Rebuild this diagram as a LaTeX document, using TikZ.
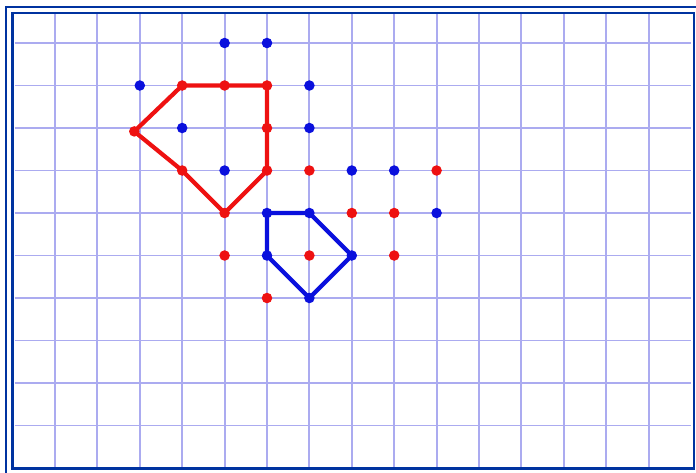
\documentclass[tikz,border=0pt]{standalone}
\usetikzlibrary{calc}
\definecolor{gridblue}{HTML}{ABABF0}
\definecolor{frameblue}{HTML}{0033A0}
\definecolor{ptred}{HTML}{EE1111}
\definecolor{ptblue}{HTML}{0A10DD}

\begin{document}
\begin{tikzpicture}[x=1.06cm, y=-1.0625cm,
  gridline/.style={gridblue, line width=1.3pt},
  reddot/.style={circle, fill=ptred, inner sep=0pt, minimum size=7.5pt},
  bluedot/.style={circle, fill=ptblue, inner sep=0pt, minimum size=7.5pt},
  redline/.style={ptred, line width=3pt, line join=round},
  blueline/.style={ptblue, line width=3pt, line join=round}]%
  \useasboundingbox (-0.297,-0.012) rectangle (16.118,11.094);
  \fill[white] (-0.297,-0.012) rectangle (16.118,11.094);
  \foreach \i in {1, ..., 15} {
    \draw[gridline] (\i,0.3) -- (\i,11.0);
  }
  \foreach \j in {1, ..., 10} {
    \draw[gridline] (0.05,\j) -- (16.0,\j);
  }
  \draw[frameblue, line width=2pt] (0,0.294) rectangle (16.07,11.02);
  \draw[frameblue, line width=1.3pt] (-0.155,11.2) -- (-0.155,0.153) -- (16.2,0.153);
  \foreach \x/\y in {4/2, 5/2, 6/2, 6/3, 6/4, 4/4, 5/5, 7/4, 10/4, 8/5, 9/5, 5/6, 7/6, 9/6, 6/7} {
    \node[reddot] (r\x\y) at (\x,\y) {};
  }
  \node[reddot] (r33) at (2.87,3.08) {};
  \foreach \x/\y in {5/1, 6/1, 3/2, 7/2, 4/3, 7/3, 5/4, 8/4, 9/4, 6/5, 7/5, 10/5, 6/6, 8/6, 7/7} {
    \node[bluedot] (b\x\y) at (\x,\y) {};
  }
  \draw[redline] (r42.center) -- (r52.center) -- (r62.center) -- (r63.center) -- (r64.center)
    -- (r55.center) -- (r44.center) -- (r33.center) -- cycle;
  \draw[blueline] (b65.center) -- (b75.center) -- (b86.center) -- (b77.center) -- (b66.center) -- cycle;
\end{tikzpicture}
\end{document}
